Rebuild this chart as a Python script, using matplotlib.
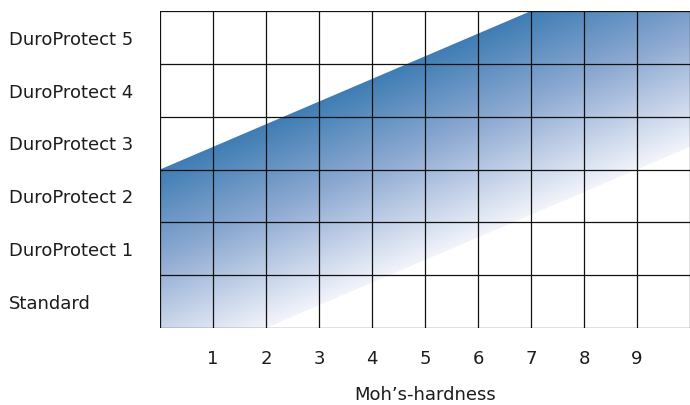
import numpy as np
import matplotlib
matplotlib.use("Agg")
from matplotlib import pyplot as plt
from matplotlib.colors import LinearSegmentedColormap
from matplotlib.patches import Polygon
import matplotlib.transforms as mtransforms

plt.rcParams['font.family'] = ['DejaVu Sans']

# rows of the grid, bottom to top
grades = ["Standard", "DuroProtect 1", "DuroProtect 2",
          "DuroProtect 3", "DuroProtect 4", "DuroProtect 5"]
hardness = [1, 2, 3, 4, 5, 6, 7, 8, 9]
n_cols = 10

# band outline (hardness, grade level)
band_x = [0, 7, 10, 10, 2, 0]
band_y = [3, 6, 6, 3.43, 0, 0]
# upper and lower edge of the band, used for the gradient direction
upper_x = [0, 7]
upper_y = [3, 6]
lower_x = [2, 10]
lower_y = [0, 3.43]

W, H = 690, 406
fig = plt.figure(figsize=(W / 100, H / 100), dpi=100)
ax = fig.add_axes([160 / W, 77 / H, 530 / W, 317 / H])
ax.set_xlim(0, n_cols)
ax.set_ylim(0, len(grades))

# gradient across the band: dark at the upper edge, light at the lower edge
slope = (upper_y[1] - upper_y[0]) / (upper_x[1] - upper_x[0])
y0_up = upper_y[0] - slope * upper_x[0]
y0_lo = lower_y[0] - slope * lower_x[0]
gx, gy = np.meshgrid(np.linspace(0, n_cols, 600), np.linspace(0, len(grades), 400))
t = (y0_up + slope * gx - gy) / (y0_up - y0_lo)
cmap = LinearSegmentedColormap.from_list(
    "band", [(0, "#3f7db4"), (0.45, "#8eaad2"), (1, "#f2f4fb")])
im = ax.imshow(t, extent=(0, n_cols, 0, len(grades)), origin="lower",
               cmap=cmap, vmin=0, vmax=1, aspect="auto", zorder=1,
               interpolation="bilinear")
poly = Polygon(np.column_stack([band_x, band_y]), closed=True,
               transform=ax.transData, facecolor="none", edgecolor="none")
ax.add_patch(poly)
im.set_clip_path(poly)

# grid
for i in range(n_cols + 1):
    ax.axvline(i, color="#111111", lw=0.9, zorder=3)
for j in range(len(grades) + 1):
    ax.axhline(j, color="#111111", lw=0.9, zorder=3)

for s in ax.spines.values():
    s.set_visible(False)
ax.set_xticks([])
ax.set_yticks([])

txt = "#1c1c1c"
# hardness numbers under the grid
tx = mtransforms.blended_transform_factory(ax.transData, fig.transFigure)
for h in hardness:
    ax.text(h, 1 - 364 / H, str(h), transform=tx, ha="center", va="baseline",
            fontsize=13, color=txt)
fig.text(425 / W, 1 - 400 / H, "Moh\u2019s-hardness", ha="center",
         va="baseline", fontsize=13, color=txt)

# grade names left of the grid
ty = mtransforms.blended_transform_factory(fig.transFigure, ax.transData)
for k, g in enumerate(grades):
    ax.text(9 / W, k + 0.38, g, transform=ty, ha="left", va="baseline",
            fontsize=13, color=txt)

fig.savefig("out.png", dpi=100)
